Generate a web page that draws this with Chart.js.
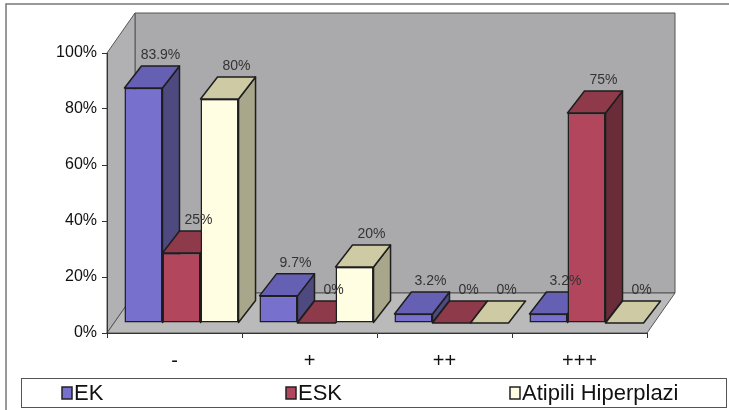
<!DOCTYPE html>
<html>
<head>
<meta charset="utf-8">
<script src="https://cdn.jsdelivr.net/npm/chart.js@4.4.1/dist/chart.umd.min.js"></script>
<style>
  html, body { margin: 0; padding: 0; background: #fff; }
</style>
</head>
<body>
<canvas id="grafik" width="729" height="410"></canvas>
<script>
// Chart data
const categories = ['-', '+', '++', '+++'];
const ekValues = [83.9, 9.7, 3.2, 3.2];
const eskValues = [25, 0, 0, 75];
const hiperplaziValues = [80, 20, 0, 0];
const seriesNames = ['EK', 'ESK', 'Atipili Hiperplazi'];
const yTickStep = 20;

// front / top / side face colours for each series
const faceColors = [
  { front: '#7770cc', top: '#6660b4', side: '#4e4a80' },
  { front: '#b2465c', top: '#8f3a4b', side: '#6b2c3a' },
  { front: '#fffde2', top: '#cdcaa4', side: '#a9a78b' }
];

// 3d offsets: whole plot box depth, bar front plane offset, bar depth
const WALL = { dx: 28, dy: 40 };
const SHIFT = { dx: 7, dy: 10 };
const DEPTH = { dx: 17, dy: 22 };

function poly(ctx, pts, fill, stroke, lw) {
  ctx.beginPath();
  ctx.moveTo(pts[0][0], pts[0][1]);
  for (let i = 1; i < pts.length; i++) ctx.lineTo(pts[i][0], pts[i][1]);
  ctx.closePath();
  if (fill) { ctx.fillStyle = fill; ctx.fill(); }
  if (stroke) { ctx.strokeStyle = stroke; ctx.lineWidth = lw || 1; ctx.stroke(); }
}

// grey back wall, side wall and floor, plus the outer frame lines
const wallsPlugin = {
  id: 'walls',
  beforeDraw(chart) {
    const ctx = chart.ctx;
    const { left, right, top, bottom } = chart.chartArea;
    ctx.save();
    ctx.strokeStyle = '#777';
    ctx.lineWidth = 1.5;
    ctx.beginPath();
    ctx.moveTo(6, 410);
    ctx.lineTo(6, 4);
    ctx.lineTo(729, 4);
    ctx.stroke();

    poly(ctx, [[left + WALL.dx, top - WALL.dy], [right + WALL.dx, top - WALL.dy],
               [right + WALL.dx, bottom - WALL.dy], [left + WALL.dx, bottom - WALL.dy]],
         '#aaaaac', '#555', 1);
    poly(ctx, [[left, top], [left + WALL.dx, top - WALL.dy],
               [left + WALL.dx, bottom - WALL.dy], [left, bottom]],
         '#b1b1b3', '#555', 1);
    poly(ctx, [[left, bottom], [right, bottom],
               [right + WALL.dx, bottom - WALL.dy], [left + WALL.dx, bottom - WALL.dy]],
         '#bababa', '#555', 1);
    ctx.restore();
  }
};

// side and top faces of each column, drawn left to right before the front faces
const columnsPlugin = {
  id: 'columns3d',
  beforeDatasetsDraw(chart) {
    const ctx = chart.ctx;
    const bars = [];
    chart.data.datasets.forEach((ds, i) => {
      chart.getDatasetMeta(i).data.forEach(el => bars.push({ el, colors: faceColors[i] }));
    });
    bars.sort((a, b) => a.el.x - b.el.x);
    ctx.save();
    ctx.lineJoin = 'round';
    bars.forEach(({ el, colors }) => {
      const x1 = el.x - el.width / 2 + SHIFT.dx;
      const x2 = el.x + el.width / 2 + SHIFT.dx;
      const yt = el.y - SHIFT.dy;
      const yb = el.base - SHIFT.dy;
      if (yb - yt > 0.5) {
        poly(ctx, [[x2, yt], [x2 + DEPTH.dx, yt - DEPTH.dy], [x2 + DEPTH.dx, yb - DEPTH.dy], [x2, yb]],
             colors.side, '#1e1e1e', 1.5);
      }
      poly(ctx, [[x1, yt], [x1 + DEPTH.dx, yt - DEPTH.dy], [x2 + DEPTH.dx, yt - DEPTH.dy], [x2, yt]],
           colors.top, '#1e1e1e', 1.5);
    });
    ctx.restore();
    // front faces are the library's own bars, moved into the plot depth
    ctx.save();
    ctx.translate(SHIFT.dx, -SHIFT.dy);
  },
  afterDatasetsDraw(chart) {
    const ctx = chart.ctx;
    ctx.restore();
    ctx.save();
    ctx.font = "14px 'Liberation Sans', Arial, sans-serif";
    ctx.fillStyle = '#333';
    ctx.textAlign = 'center';
    ctx.textBaseline = 'alphabetic';
    chart.data.datasets.forEach((ds, i) => {
      chart.getDatasetMeta(i).data.forEach((el, j) => {
        const x = el.x + SHIFT.dx + DEPTH.dx;
        const y = el.y - SHIFT.dy - DEPTH.dy - 7;
        ctx.fillText(ds.data[j] + '%', x, y);
      });
    });
    ctx.restore();
  }
};

// boxed legend along the bottom
const legendPlugin = {
  id: 'legendBox',
  afterDraw(chart) {
    const ctx = chart.ctx;
    ctx.save();
    ctx.strokeStyle = '#555';
    ctx.lineWidth = 1;
    ctx.strokeRect(21.5, 378.5, 705, 29);
    ctx.font = "22px 'Liberation Sans', Arial, sans-serif";
    ctx.textBaseline = 'middle';
    ctx.textAlign = 'left';
    seriesNames.forEach((name, i) => {
      const x = 62 + i * 224;
      ctx.fillStyle = faceColors[i].front;
      ctx.fillRect(x, 387, 10, 12);
      ctx.strokeStyle = '#222';
      ctx.lineWidth = 1.5;
      ctx.strokeRect(x, 387, 10, 12);
      ctx.fillStyle = '#111';
      ctx.fillText(name, x + 12, 394);
    });
    ctx.restore();
  }
};

Chart.defaults.font.family = "'Liberation Sans', Arial, sans-serif";

const seriesValues = [ekValues, eskValues, hiperplaziValues];

new Chart(document.getElementById('grafik'), {
  type: 'bar',
  data: {
    labels: categories,
    datasets: seriesNames.map((name, i) => ({
      label: name,
      data: seriesValues[i],
      backgroundColor: faceColors[i].front,
      borderColor: '#1e1e1e',
      borderWidth: 1.5,
      borderSkipped: false,
      categoryPercentage: 0.845,
      barPercentage: 1.0,
      clip: false
    }))
  },
  options: {
    responsive: false,
    animation: false,
    layout: { padding: { top: 53, right: 82, left: 0, bottom: 0 } },
    plugins: {
      legend: { display: false },
      tooltip: { enabled: false }
    },
    scales: {
      x: {
        grid: { drawOnChartArea: false, tickLength: 5, color: '#333', offset: true },
        border: { color: '#333', width: 1 },
        ticks: { padding: 11, color: '#111', font: { size: 20 } },
        afterFit: s => { s.height = 77; }
      },
      y: {
        min: 0,
        max: 100,
        ticks: { stepSize: yTickStep, padding: 5, color: '#111', font: { size: 16 }, callback: v => v + '%' },
        grid: { drawOnChartArea: false, tickLength: 5, color: '#333' },
        border: { color: '#333', width: 1 },
        afterFit: s => { s.width = 107; }
      }
    }
  },
  plugins: [wallsPlugin, columnsPlugin, legendPlugin]
});
</script>
</body>
</html>
